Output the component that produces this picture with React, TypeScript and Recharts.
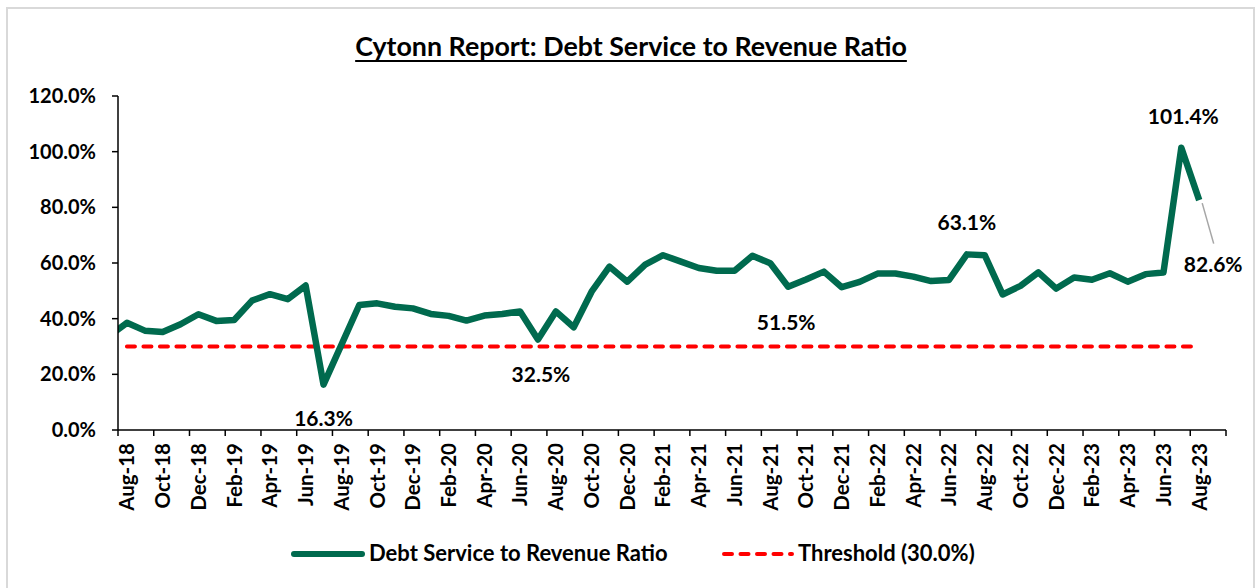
import { Line, LineChart, XAxis, YAxis, LabelList } from 'recharts';

// monthly ratio, Aug-18 .. Aug-23 (the Jul-18 point sits left of the axis and is clipped)
const leadMonth = 'Jul-18';
const leadValue = 33.7;

const months = [
  'Aug-18', 'Sep-18', 'Oct-18', 'Nov-18', 'Dec-18', 'Jan-19', 'Feb-19', 'Mar-19', 'Apr-19', 'May-19', 'Jun-19', 'Jul-19',
  'Aug-19', 'Sep-19', 'Oct-19', 'Nov-19', 'Dec-19', 'Jan-20', 'Feb-20', 'Mar-20', 'Apr-20', 'May-20', 'Jun-20', 'Jul-20',
  'Aug-20', 'Sep-20', 'Oct-20', 'Nov-20', 'Dec-20', 'Jan-21', 'Feb-21', 'Mar-21', 'Apr-21', 'May-21', 'Jun-21', 'Jul-21',
  'Aug-21', 'Sep-21', 'Oct-21', 'Nov-21', 'Dec-21', 'Jan-22', 'Feb-22', 'Mar-22', 'Apr-22', 'May-22', 'Jun-22', 'Jul-22',
  'Aug-22', 'Sep-22', 'Oct-22', 'Nov-22', 'Dec-22', 'Jan-23', 'Feb-23', 'Mar-23', 'Apr-23', 'May-23', 'Jun-23', 'Jul-23',
  'Aug-23',
];

const ratio = [
  38.5, 35.7, 35.2, 38.0, 41.6, 39.2, 39.5, 46.5, 48.8, 47.0, 51.9, 16.3,
  30.6, 44.9, 45.5, 44.3, 43.7, 41.7, 41.0, 39.3, 41.1, 41.7, 42.6, 32.5,
  42.6, 36.9, 49.7, 58.7, 53.3, 59.4, 62.8, 60.5, 58.2, 57.2, 57.2, 62.6,
  59.9, 51.5, 54.1, 56.9, 51.3, 53.2, 56.2, 56.2, 55.1, 53.5, 53.9, 63.1,
  62.8, 48.7, 51.8, 56.6, 50.8, 54.8, 54.0, 56.3, 53.3, 56.0, 56.6, 101.4,
  82.6,
];

const thresholdValue = 30;
const yTicks = [0, 20, 40, 60, 80, 100, 120];

// which points carry a data label, and where the label sits relative to the point
const labelled: Record<string, { dx: number; dy: number; leader?: boolean }> = {
  'Jul-19': { dx: 0, dy: 33 },
  'Jul-20': { dx: 3, dy: 34 },
  'Sep-21': { dx: -2, dy: 35 },
  'Jul-22': { dx: 0, dy: -33 },
  'Jul-23': { dx: 2, dy: -32 },
  'Aug-23': { dx: 14, dy: 63, leader: true },
};

const data = [
  { idx: -1, month: leadMonth, ratio: leadValue, threshold: null as number | null },
  ...months.map((m, i) => ({ idx: i, month: m, ratio: ratio[i], threshold: thresholdValue })),
];

const W = 1256;
const H = 588;
const PLOT_LEFT = 118;
const PLOT_RIGHT = 1226;
const PLOT_TOP = 96;
const PLOT_BOTTOM = 430;
const X_MIN = -0.5;
const X_MAX = months.length + 0.5; // axis runs one empty month past the last point
const HALF_STEP = (PLOT_RIGHT - PLOT_LEFT) / (X_MAX - X_MIN) / 2;

const xTicks: number[] = [];
for (let t = X_MIN; t <= X_MAX + 0.01; t += 2) xTicks.push(t);

const FONT = 'Lato, "Noto Sans", sans-serif';
const GREEN = '#006A4E';
const RED = '#FF0000';

function XTick({ x, y, payload }: any) {
  const label = months[Math.round(payload.value + 0.5)];
  if (!label) return <g />;
  return (
    <text
      transform={`translate(${x + HALF_STEP},${y + 5}) rotate(-90)`}
      textAnchor="end"
      dy="0.36em"
      fontFamily={FONT}
      fontWeight={700}
      fontSize={20.5}
      fill="#000"
    >
      {label}
    </text>
  );
}

function PointLabel(props: any) {
  const { x, y, value, index } = props;
  const row = data[index];
  const spot = row && labelled[row.month];
  if (!spot) return null;
  return (
    <g>
      {spot.leader && (
        <line x1={x + 3} y1={y + 3} x2={x + 14.5} y2={y + 43.5} stroke="#a6a6a6" strokeWidth={1.5} />
      )}
      <text
        x={x + spot.dx}
        y={y + spot.dy}
        textAnchor="middle"
        dominantBaseline="central"
        fontFamily={FONT}
        fontWeight={700}
        fontSize={21}
        fill="#000"
      >
        {`${Number(value).toFixed(1)}%`}
      </text>
    </g>
  );
}

function LegendRow() {
  return (
    <div style={{ position: 'absolute', top: 539, left: 0, width: W, height: 28, fontFamily: FONT, fontWeight: 700, fontSize: 22, color: '#000' }}>
      <svg style={{ position: 'absolute', left: 290, top: 10 }} width={78} height={10}>
        <line x1={4} y1={5} x2={72} y2={5} stroke={GREEN} strokeWidth={6} strokeLinecap="round" />
      </svg>
      <span style={{ position: 'absolute', left: 369, top: 0, lineHeight: '28px' }}>Debt Service to Revenue Ratio</span>
      <svg style={{ position: 'absolute', left: 720, top: 10 }} width={76} height={10}>
        <line x1={4} y1={5} x2={72} y2={5} stroke={RED} strokeWidth={4} strokeLinecap="round" strokeDasharray="8 8.5" />
      </svg>
      <span style={{ position: 'absolute', left: 798, top: 0, lineHeight: '28px' }}>Threshold (30.0%)</span>
    </div>
  );
}

export default function App() {
  return (
    <div style={{ position: 'absolute', left: 0, top: 0, width: W, height: H, overflow: 'hidden', background: '#fff' }}>
      <div style={{ position: 'absolute', left: 6, top: 7, width: 1249, height: 620, border: '2px solid #d9d9d9', boxSizing: 'border-box' }} />
      <div
        style={{
          position: 'absolute', top: 30, left: 0, width: 1262, textAlign: 'center',
          fontFamily: FONT, fontWeight: 700, fontSize: 26.8, color: '#000', textDecoration: 'underline',
          textUnderlineOffset: 4, lineHeight: '32px',
        }}
      >
        Cytonn Report: Debt Service to Revenue Ratio
      </div>
      <div style={{ position: 'absolute', left: 0, top: 0 }}>
        <LineChart
          width={W}
          height={H}
          data={data}
          margin={{ top: PLOT_TOP, right: W - PLOT_RIGHT, left: 0, bottom: H - PLOT_BOTTOM - 80 }}
        >
          <XAxis
            type="number"
            dataKey="idx"
            domain={[X_MIN, X_MAX]}
            allowDataOverflow
            ticks={xTicks}
            interval={0}
            height={80}
            tick={<XTick />}
            tickSize={6}
            axisLine={{ stroke: '#000', strokeWidth: 1.5 }}
            tickLine={{ stroke: '#000', strokeWidth: 1.5 }}
          />
          <YAxis
            type="number"
            domain={[0, 120]}
            ticks={yTicks}
            interval={0}
            width={PLOT_LEFT}
            tickFormatter={(v: number) => `${v.toFixed(1)}%`}
            tick={{ fontFamily: FONT, fontWeight: 700, fontSize: 20, fill: '#000' }}
            tickSize={6}
            tickMargin={16}
            axisLine={{ stroke: '#000', strokeWidth: 1.5 }}
            tickLine={{ stroke: '#000', strokeWidth: 1.5 }}
          />
          <Line
            dataKey="threshold"
            stroke={RED}
            strokeWidth={4}
            strokeDasharray="8 8.5"
            strokeLinecap="round"
            dot={false}
            activeDot={false}
            isAnimationActive={false}
          />
          <Line
            dataKey="ratio"
            stroke={GREEN}
            strokeWidth={6.5}
            strokeLinejoin="round"
            dot={false}
            activeDot={false}
            isAnimationActive={false}
          >
            <LabelList dataKey="ratio" content={<PointLabel />} />
          </Line>
        </LineChart>
      </div>
      <LegendRow />
    </div>
  );
}
